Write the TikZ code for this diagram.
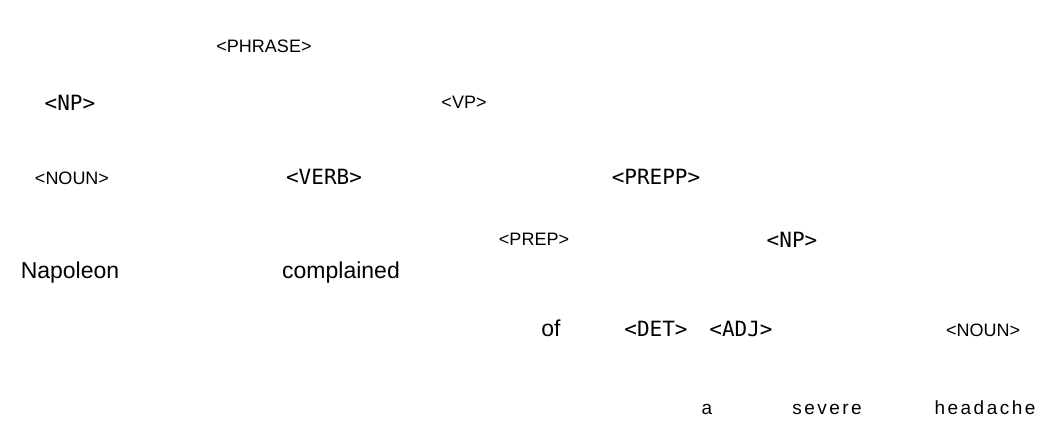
\documentclass[tikz,border=0pt]{standalone}
\usepackage{fontspec}
\setmainfont{Liberation Sans}
\newfontfamily\ocrfont{DejaVu Sans Mono}
\newfontfamily\wordfont{Liberation Sans}
\newfontfamily\spacedfont[LetterSpace=13]{Liberation Sans}
\begin{document}
\begin{tikzpicture}[x=1pt,y=-1pt,
  lbl/.style={inner sep=0pt,anchor=base},
  cat/.style={lbl,font=\fontsize{18}{18}\selectfont},
  ocr/.style={lbl,font=\ocrfont\fontsize{21}{21}\selectfont},
  word/.style={lbl,font=\wordfont\fontsize{23}{23}\selectfont},
  spaced/.style={lbl,font=\spacedfont\fontsize{19}{19}\selectfont}]
\useasboundingbox (0,0) rectangle (1054,435);
% categories of the parse
\node[cat] (phrase) at (264,53) {<PHRASE>};
\node[ocr] (np1) at (70,111) {<NP>};
\node[cat] (vp) at (464,109) {<VP>};
\node[cat] (noun1) at (72,185) {<NOUN>};
\node[ocr] (verb) at (324,185) {<VERB>};
\node[ocr] (prepp) at (656,185) {<PREPP>};
\node[cat] (prep) at (534,246) {<PREP>};
\node[ocr] (np2) at (792,248) {<NP>};
\node[ocr] (det) at (656,336) {<DET>};
\node[ocr] (adj) at (741,336) {<ADJ>};
\node[cat] (noun2) at (983,336) {<NOUN>};
% words of the sentence
\node[word] (napoleon) at (70,279) {Napoleon};
\node[word] (complained) at (341,279) {complained};
\node[word] (of) at (551,336) {of};
\node[spaced] (wa) at (707,414) {a};
\node[spaced] (wsevere) at (827,414) {severe};
\node[spaced] (wheadache) at (985,414) {headache};
\end{tikzpicture}
\end{document}
